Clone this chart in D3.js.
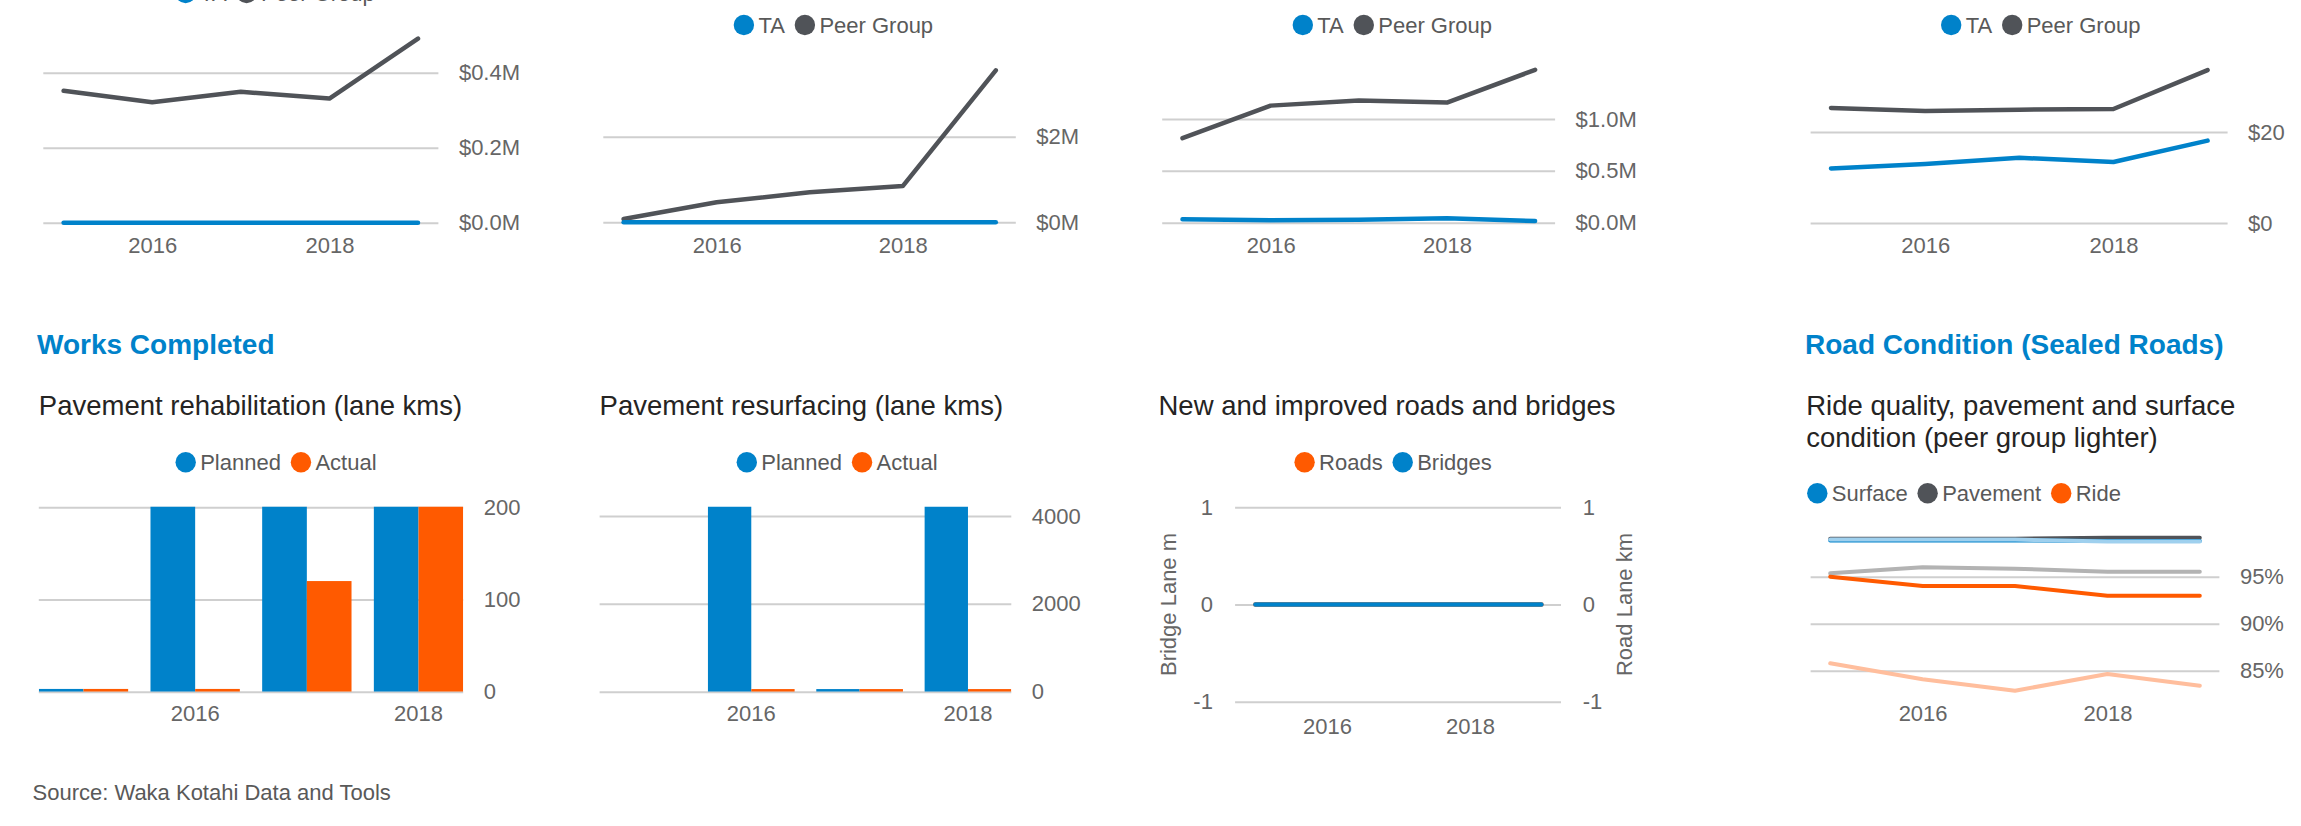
<!DOCTYPE html>
<html>
<head>
<meta charset="utf-8">
<title>Road network dashboard</title>
<script src="https://d3js.org/d3.v7.min.js"></script>
<style>
  body { margin: 0; background: #fff; }
</style>
</head>
<body>
<script>
// ---- data ----
const years = [2015, 2016, 2017, 2018, 2019]
const barYears = [2015, 2016, 2017, 2018]
const yearTicks = [2016, 2018]

// top row, TA vs peer group ($M, last one $)
const c1TA = [0, 0, 0, 0, 0]
const c1Peer = [0.352, 0.321, 0.349, 0.331, 0.491]
const c2TA = [0, 0, 0, 0, 0]
const c2Peer = [0.077, 0.467, 0.70, 0.847, 3.55]
const c3TA = [0.033, 0.023, 0.029, 0.042, 0.016]
const c3Peer = [0.815, 1.129, 1.178, 1.158, 1.474]
const c4TA = [12.0, 12.97, 14.35, 13.4, 18.1]
const c4Peer = [25.3, 24.6, 24.9, 25.05, 33.6]

// works completed (lane kms)
const rehabPlanned = [3, 240, 230, 220]
const rehabActual = [3, 3, 120, 215]
const resurfPlanned = [null, 4600, 60, 4500]
const resurfActual = [null, 60, 60, 60]
const roads = [0, 0, 0, 0, 0]
const bridges = [0, 0, 0, 0, 0]

// road condition (%)
const surfaceTA = [98.85, 98.85, 98.85, 98.8, 98.8]
const pavementTA = [99.05, 99.05, 99.05, 99.15, 99.15]
const rideTA = [95.0, 94.0, 94.0, 92.98, 92.98]
const surfacePeer = [98.95, 98.95, 98.95, 98.75, 98.75]
const pavementPeer = [95.36, 96.0, 95.85, 95.53, 95.53]
const ridePeer = [85.79, 84.09, 82.87, 84.65, 83.4]

// ---- styles ----
const font = '"Liberation Sans", Arial, sans-serif'
const blue = '#0082ca', orange = '#ff5a00', dark = '#505358'
const grid = '#cfcfcf', axisText = '#666'

const svg = d3.select('body').append('svg')
  .attr('width', 2301).attr('height', 826)
  .style('font-family', font)

function styleAxis(sel) {
  sel.attr('font-family', font).attr('font-size', 22)
  sel.select('.domain').remove()
  sel.selectAll('.tick line').attr('stroke', grid).attr('stroke-width', 2)
  sel.selectAll('.tick text').attr('fill', axisText)
}

function legend(g, items, cx, cy) {
  items.forEach(it => {
    g.append('circle').attr('cx', cx).attr('cy', cy).attr('r', 10.2).attr('fill', it.color)
    let t = g.append('text').attr('x', cx + 14.5).attr('y', cy + 7.7)
      .attr('font-size', 22).attr('fill', '#595959').text(it.label)
    cx = cx + 14.5 + t.node().getComputedTextLength() + 20
  })
}

function yearAxis(g, x, top) {
  g.append('g').attr('transform', `translate(0,${top})`)
    .call(d3.axisBottom(x).tickValues(yearTicks).tickSize(0).tickPadding(0))
    .call(styleAxis)
}

function lineChart(o) {
  let g = svg.append('g')
  let x = d3.scalePoint().domain(years).range(o.xRange)
  let y = d3.scaleLinear().domain(o.yDomain).range(o.yRange)

  g.append('g').attr('transform', `translate(${o.grid[1]},0)`)
    .call(d3.axisRight(y).tickValues(o.yTicks).tickFormat(o.fmt)
      .tickSize(-(o.grid[1] - o.grid[0])).tickPadding(20.5))
    .call(styleAxis)
  yearAxis(g, x, o.yearTop)

  let line = d3.line().x((d, i) => x(years[i])).y(d => y(d))
  o.series.forEach(s => {
    g.append('path').datum(s.values).attr('d', line)
      .attr('fill', 'none').attr('stroke', s.color).attr('stroke-width', s.width || 4.5)
      .attr('stroke-linejoin', 'round').attr('stroke-linecap', 'round')
  })
  if (o.legend) legend(g, o.legend, o.legendX, o.legendY)
  return { g, x, y }
}

function barChart(o) {
  let g = svg.append('g')
  let x0 = d3.scaleBand().domain(barYears).range(o.xRange).paddingInner(0.2).paddingOuter(0)
  let x1 = d3.scaleBand().domain(['planned', 'actual']).range([0, x0.bandwidth()])
  let y = d3.scaleLinear().domain(o.yDomain).range(o.yRange)

  g.append('g').attr('transform', `translate(${o.xRange[1]},0)`)
    .call(d3.axisRight(y).tickValues(o.yTicks).tickFormat(d3.format('d'))
      .tickSize(-(o.xRange[1] - o.xRange[0])).tickPadding(20.5))
    .call(styleAxis)
  yearAxis(g, x0, 705)

  g.append('clipPath').attr('id', o.id).append('rect')
    .attr('x', o.xRange[0]).attr('y', o.clipTop)
    .attr('width', o.xRange[1] - o.xRange[0]).attr('height', y(0) - o.clipTop)

  let rows = []
  barYears.forEach((yr, i) => {
    rows.push({ year: yr, key: 'planned', v: o.planned[i] })
    rows.push({ year: yr, key: 'actual', v: o.actual[i] })
  })
  g.append('g').attr('clip-path', `url(#${o.id})`)
    .selectAll('rect').data(rows.filter(d => d.v != null)).join('rect')
    .attr('x', d => x0(d.year) + x1(d.key))
    .attr('width', x1.bandwidth())
    .attr('y', d => y(d.v))
    .attr('height', d => y(0) - y(d.v))
    .attr('fill', d => d.key == 'planned' ? blue : orange)

  legend(g, [{ label: 'Planned', color: blue }, { label: 'Actual', color: orange }], o.legendX, 462.3)
}

// ---- top row ----
const taPeer = [{ label: 'TA', color: blue }, { label: 'Peer Group', color: dark }]

lineChart({
  xRange: [63.6, 418], grid: [43.3, 438.4],
  yDomain: [0, 0.4], yRange: [222.7, 72.7], yTicks: [0, 0.2, 0.4],
  fmt: d => `$${d.toFixed(1)}M`, yearTop: 237,
  series: [{ values: c1Peer, color: dark }, { values: c1TA, color: blue }],
  legend: taPeer, legendX: 185.6, legendY: -7
})
lineChart({
  xRange: [623.6, 995.8], grid: [603.3, 1015.8],
  yDomain: [0, 2], yRange: [222.3, 136.7], yTicks: [0, 2],
  fmt: d => `$${d}M`, yearTop: 237,
  series: [{ values: c2Peer, color: dark }, { values: c2TA, color: blue }],
  legend: taPeer, legendX: 743.9, legendY: 25
})
lineChart({
  xRange: [1182.5, 1535.1], grid: [1162.2, 1555.1],
  yDomain: [0, 1], yRange: [222.7, 119], yTicks: [0, 0.5, 1],
  fmt: d => `$${d.toFixed(1)}M`, yearTop: 237,
  series: [{ values: c3Peer, color: dark }, { values: c3TA, color: blue }],
  legend: taPeer, legendX: 1302.8, legendY: 25
})
lineChart({
  xRange: [1831, 2207.6], grid: [1810.6, 2227.6],
  yDomain: [0, 20], yRange: [223, 132], yTicks: [0, 20],
  fmt: d => `$${d}`, yearTop: 237,
  series: [{ values: c4Peer, color: dark }, { values: c4TA, color: blue }],
  legend: taPeer, legendX: 1951.2, legendY: 25
})

// ---- headings ----
svg.append('text').attr('x', 37).attr('y', 354.3).attr('font-size', 28).attr('font-weight', 'bold')
  .attr('fill', blue).text('Works Completed')
svg.append('text').attr('x', 1805).attr('y', 354.3).attr('font-size', 28).attr('font-weight', 'bold')
  .attr('fill', blue).text('Road Condition (Sealed Roads)')

const titles = [
  { x: 38.8, y: 415, t: 'Pavement rehabilitation (lane kms)' },
  { x: 599.6, y: 415, t: 'Pavement resurfacing (lane kms)' },
  { x: 1158.5, y: 415, t: 'New and improved roads and bridges' },
  { x: 1806.2, y: 415, t: 'Ride quality, pavement and surface' },
  { x: 1806.2, y: 446.7, t: 'condition (peer group lighter)' }
]
svg.selectAll('text.title').data(titles).join('text').attr('class', 'title')
  .attr('x', d => d.x).attr('y', d => d.y).attr('font-size', 27.5).attr('fill', '#252423')
  .text(d => d.t)

// ---- works completed ----
barChart({
  id: 'clip1', xRange: [38.8, 463.2], yDomain: [0, 200], yRange: [691.7, 507.3],
  yTicks: [0, 100, 200], clipTop: 506.7,
  planned: rehabPlanned, actual: rehabActual, legendX: 185.7
})
barChart({
  id: 'clip2', xRange: [599.6, 1011.3], yDomain: [0, 4000], yRange: [691.7, 516],
  yTicks: [0, 2000, 4000], clipTop: 506.7,
  planned: resurfPlanned, actual: resurfActual, legendX: 746.8
})

// roads and bridges, two axes
{
  let g = svg.append('g')
  let x = d3.scalePoint().domain(years).range([1255.4, 1541.4])
  let yL = d3.scaleLinear().domain([-1, 1]).range([701.7, 507.3])
  let yR = d3.scaleLinear().domain([-1, 1]).range([701.7, 507.3])
  let plain = d => String(d)
  g.append('g').attr('transform', 'translate(1561,0)')
    .call(d3.axisRight(yR).tickValues([-1, 0, 1]).tickFormat(plain)
      .tickSize(-(1561 - 1235.1)).tickPadding(21.8))
    .call(styleAxis)
  g.append('g').attr('transform', 'translate(1235.1,0)')
    .call(d3.axisLeft(yL).tickValues([-1, 0, 1]).tickFormat(plain).tickSize(0).tickPadding(22.2))
    .call(styleAxis)
  yearAxis(g, x, 718)
  g.append('text').attr('transform', 'translate(1175.5,604.5) rotate(-90)')
    .attr('text-anchor', 'middle').attr('font-size', 22).attr('fill', axisText).text('Bridge Lane m')
  g.append('text').attr('transform', 'translate(1632.4,604.5) rotate(-90)')
    .attr('text-anchor', 'middle').attr('font-size', 22).attr('fill', axisText).text('Road Lane km')
  let line = d3.line().x((d, i) => x(years[i]))
  g.append('path').datum(roads).attr('d', line.y(d => yR(d)))
    .attr('fill', 'none').attr('stroke', orange).attr('stroke-width', 4.5).attr('stroke-linecap', 'round')
  g.append('path').datum(bridges).attr('d', line.y(d => yL(d)))
    .attr('fill', 'none').attr('stroke', blue).attr('stroke-width', 4.5).attr('stroke-linecap', 'round')
  legend(g, [{ label: 'Roads', color: orange }, { label: 'Bridges', color: blue }], 1304.6, 462.3)
}

// ---- road condition ----
lineChart({
  xRange: [1830.2, 2199.8], grid: [1810.6, 2219.4],
  yDomain: [85, 95], yRange: [670.7, 576.7], yTicks: [85, 90, 95],
  fmt: d => `${d}%`, yearTop: 705,
  series: [
    { values: ridePeer, color: '#ffbe9d', width: 4 },
    { values: pavementPeer, color: '#b3b3b3', width: 4 },
    { values: rideTA, color: orange, width: 4 },
    { values: pavementTA, color: dark, width: 4 },
    { values: surfaceTA, color: blue, width: 4 },
    { values: surfacePeer, color: '#9fd0ee', width: 4 }
  ],
  legend: [{ label: 'Surface', color: blue }, { label: 'Pavement', color: dark }, { label: 'Ride', color: orange }],
  legendX: 1817.3, legendY: 493.3
})

svg.append('text').attr('x', 32.5).attr('y', 799.5).attr('font-size', 22).attr('fill', '#595959')
  .text('Source: Waka Kotahi Data and Tools')
</script>
</body>
</html>
